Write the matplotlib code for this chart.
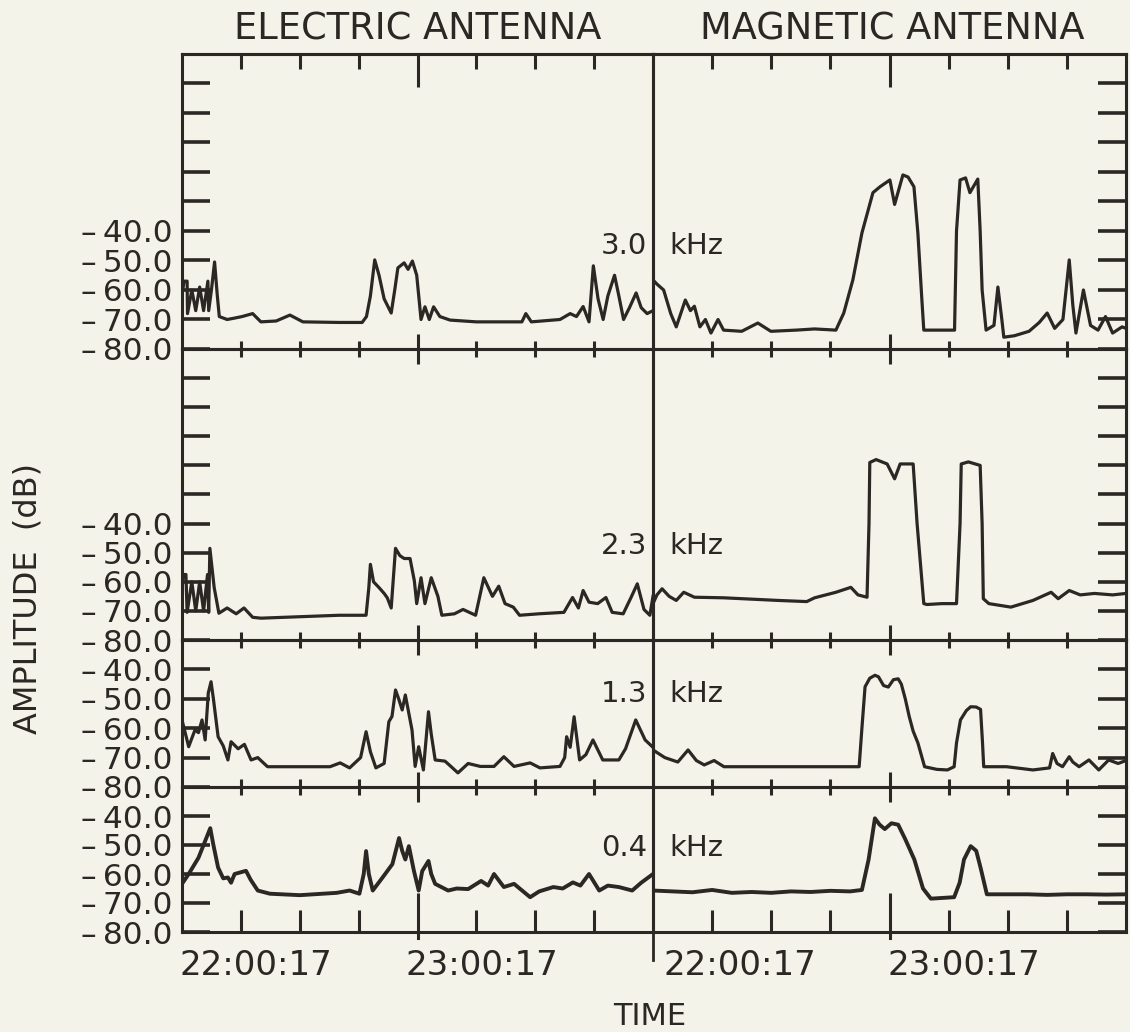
import numpy as np
import matplotlib.pyplot as plt
from matplotlib.ticker import FixedLocator, FixedFormatter, NullFormatter

# time axis: minutes after 22:00:17, amplitude in dB
e30 = np.array([
    (0, -62), (0.5, -57), (1.3, -57), (1.4, -68), (2.5, -60), (3.5, -67), (4.5, -59),
    (5.5, -67), (6.6, -57), (6.8, -67), (7.5, -60), (8.3, -50.5), (9, -62), (9.5, -69),
    (11.5, -70), (13.5, -69.5), (15.3, -69), (18, -68), (20.1, -70.8), (24, -70.5),
    (27.5, -68.5), (30.8, -70.8), (40, -71), (45.9, -71), (47, -69), (48, -62), (49.1, -49.8),
    (50.2, -55), (51.5, -63), (53.3, -67.8), (54.2, -60), (55, -52.5), (56.6, -50.8),
    (57.6, -53), (58.7, -50.2), (59.8, -55), (60.9, -70), (61.9, -65.7), (63, -70),
    (64.1, -65.7), (65.7, -69), (68.3, -70.2), (75, -70.8), (86.6, -70.8), (87.6, -68),
    (89, -70.8), (96.3, -70), (98.9, -68), (100.5, -69), (102.2, -65.6), (103.7, -70.8),
    (104.8, -51.8), (106, -63), (107.3, -70), (108.5, -62), (110.2, -55), (111.3, -62),
    (112.5, -70), (114, -66), (115.7, -61), (117, -66), (118.5, -68), (120, -67),
])
m30 = np.array([
    (0, -56.6), (1, -58), (2.7, -60), (4.5, -68), (5.9, -72.5), (8.2, -63.4), (9.5, -67),
    (10.5, -65.5), (11.9, -72.5), (13.3, -70), (14.7, -74.6), (16.5, -70), (17.9, -73.6),
    (22.5, -74), (26.6, -71.2), (29.9, -74), (36.3, -73.6), (41, -73.2), (46.4, -73.6),
    (48.4, -67.8), (50.7, -56.6), (53, -40.7), (55.8, -27), (57.6, -25), (60.1, -22.7),
    (61.3, -31), (63.4, -21), (64.7, -21.7), (66.2, -25), (67.2, -40.7), (68.2, -63),
    (68.7, -73.6), (72, -73.6), (76.5, -73.6), (77, -40), (77.9, -22.7), (79.3, -22),
    (80.4, -27), (82.4, -22.4), (83, -40), (83.5, -60), (84.5, -73.6), (86.5, -72),
    (87.5, -59), (88.5, -70), (89, -76), (91.7, -75.5), (95.4, -74), (98, -71), (100, -67.8),
    (101.9, -73), (104, -70), (105.6, -49.8), (106.5, -65), (107.3, -74.6), (109.2, -60),
    (111, -72), (112.9, -73.6), (114.8, -69), (116.6, -74.6), (119, -72.5), (120, -73),
])
e23 = np.array([
    (0, -62), (0.3, -57.5), (1, -57.5), (1.3, -70.5), (2.5, -60), (3.5, -70), (4.5, -60),
    (5.5, -70), (6.5, -57.5), (6.8, -70.5), (7.1, -48.5), (8.2, -62), (9.4, -70.8),
    (11.5, -69), (13.8, -71), (15.8, -69), (18, -72.2), (20.1, -72.5), (30, -72),
    (40, -71.5), (46.9, -71.5), (47.6, -62), (48, -54), (48.8, -60), (50.2, -62),
    (51.5, -64), (52.3, -65.5), (53.3, -69), (54.4, -48.5), (55.5, -51), (56.6, -52),
    (58.1, -52), (59.2, -59.7), (59.8, -67.5), (60.9, -58.6), (61.9, -67.5), (63.5, -58.6),
    (65.2, -65), (66.2, -71.5), (69.4, -71), (71.6, -69.5), (74.8, -71.5), (76.9, -58.6),
    (79.1, -65), (80.7, -61.5), (82.3, -67.5), (84.4, -68.7), (86, -71.5), (90.9, -71),
    (97.3, -70.5), (99.5, -65.4), (101, -69), (102.2, -63), (103.7, -67), (105.9, -67.5),
    (108, -65.4), (109.6, -70.5), (112.4, -71), (114.4, -65.4), (116, -60.7), (117.7, -69.5),
    (119.2, -71.5), (120, -65),
])
m23 = np.array([
    (0, -67.5), (1, -64.5), (2.3, -62.4), (4.1, -65), (5.9, -66.4), (7.8, -63.6),
    (10.5, -65.3), (17.9, -65.5), (31.7, -66.4), (39, -66.8), (41, -65.5), (46.4, -63.6),
    (50.2, -61.9), (52, -64.5), (54.3, -65.3), (54.8, -40), (55, -19), (56.6, -18),
    (59.4, -19.5), (61.3, -24.6), (62.7, -19.5), (66, -19.5), (67, -40), (68.7, -67.5),
    (69.5, -67.8), (73.3, -67.5), (77, -67.5), (77.9, -40), (78.2, -19.5), (80, -18.8),
    (83, -20), (83.5, -40), (83.8, -65.8), (85.2, -67.5), (90.8, -68.7), (96.4, -66.4),
    (101, -63.6), (102.8, -65.8), (105.6, -63), (108.4, -64.5), (112, -64), (116.6, -64.5),
    (120, -64),
])
e13 = np.array([
    (0, -57.2), (1.7, -66.3), (3.3, -60.6), (4.2, -61.5), (5.1, -57.2), (5.9, -64),
    (6.7, -48), (7.4, -44.2), (8, -50), (9.2, -62.9), (10.5, -66), (11.7, -70.8),
    (12.5, -64.6), (14.3, -67), (15.9, -65.5), (17.6, -70.8), (19.3, -70), (21.8, -73.1),
    (30, -73.1), (37.7, -73.1), (40.3, -71.8), (42.7, -73.5), (45.5, -70), (46.9, -61.2),
    (48, -68), (49.4, -73.5), (51.5, -72), (52.7, -57.8), (53.5, -56), (54.4, -47),
    (55.2, -50), (56.1, -53.8), (56.9, -48.7), (57.8, -55), (58.6, -60.6), (59.4, -73),
    (60.3, -66.3), (61.5, -74.2), (62.8, -54.4), (63.5, -62), (64.5, -70.8), (67, -71.2),
    (68.5, -73), (70.3, -75.2), (72.9, -72), (76, -73), (79.5, -73), (82, -69.7),
    (84.6, -73), (88.7, -71.8), (91.2, -73.5), (96.3, -73), (97.5, -70), (98, -62.9),
    (98.9, -66.5), (99.9, -56.1), (101.3, -70.8), (102.9, -69), (104.7, -64), (107.2, -70.8),
    (111.3, -70.8), (113, -67), (115.6, -57.2), (118, -64), (120, -66.5),
])
m13 = np.array([
    (0, -67.4), (3, -70), (6.3, -71.5), (8.9, -67.4), (11, -71), (13, -72.5), (15.5, -71),
    (18, -73.1), (30, -73.1), (45, -73.1), (52.3, -73.1), (53, -60), (53.8, -45.9),
    (55, -43), (56.3, -42), (57.2, -42.5), (58.5, -45.5), (59.7, -46), (61, -43.5),
    (62.2, -43.2), (63, -45), (64, -50), (65, -56), (66, -61), (67.2, -65), (68.9, -73.1),
    (72, -74), (74.7, -74.2), (76.4, -73.1), (77, -65), (78, -57.2), (79.5, -54),
    (80.6, -52.7), (82, -52.8), (83.1, -53.6), (83.6, -65), (83.9, -73.1), (89.7, -73.1),
    (96.4, -74.2), (100.6, -73.5), (101.4, -68.6), (102.5, -72), (103.9, -73.1),
    (105.6, -69.7), (106.5, -71.5), (108.1, -73.1), (110.6, -70.8), (113.1, -74.2),
    (115.6, -70.8), (118, -72), (120, -71),
])
e04 = np.array([
    (0, -63.4), (1.7, -60), (4.2, -54.4), (7.2, -44.2), (8, -50), (9.2, -57.8), (10.5, -61.5),
    (11.7, -61.2), (12.5, -63), (13.4, -60), (16.3, -58.9), (17.5, -62), (19.3, -65.7),
    (22.4, -66.8), (30, -67.3), (39.4, -66.5), (42.7, -65.7), (45.2, -66.8), (46.3, -60),
    (46.9, -52.1), (47.6, -60), (48.6, -65.7), (51.1, -61.2), (53.6, -56.6), (55.3, -47.6),
    (56.1, -52), (56.9, -55), (57.8, -50.4), (59.1, -59), (60.3, -65.7), (61.2, -59),
    (62.8, -55.5), (63.5, -60), (64.5, -63.4), (67.8, -65.7), (70, -65), (72.9, -65.2),
    (76.2, -62.4), (78, -64), (79.5, -60), (82, -64.5), (84.6, -63.4), (88.7, -68),
    (91, -66), (94.6, -64.5), (97, -65), (99.6, -62.9), (101.5, -64), (103.7, -60),
    (106.3, -65.7), (108.5, -64), (111.3, -64.5), (114.7, -65.7), (117, -63), (120, -60),
])
m04 = np.array([
    (0, -65.7), (5, -66), (10, -66.3), (15, -65.5), (20, -66.5), (25, -66.2), (30, -66.5),
    (35, -66), (40, -66.2), (45, -65.8), (50, -66), (53, -65.5), (54.7, -55), (56.3, -40.8),
    (57.5, -43), (58.8, -44.5), (60.5, -42.5), (62.2, -43), (64, -48), (66.3, -55),
    (68.5, -65), (70.5, -68.5), (76.4, -68), (77.8, -63), (78.9, -55), (80.6, -50.4),
    (82, -52), (83.1, -57.8), (84.7, -67), (89.7, -67), (95, -67), (100, -67.2), (105, -67),
    (110, -67), (115, -67.1), (120, -67),
])

freqs = ["3.0", "2.3", "1.3", "0.4"]
freq_y = [-47.8, -50.5, -51, -53.8]
panels = [(e30, m30), (e23, m23), (e13, m13), (e04, m04)]
ylims = [(-80, 20), (-80, 20), (-80, -30), (-80, -30)]
yticks_big = [-80, -70, -60, -50, -40, -30, -20, -10, 0, 10]
yticks_small = [-80, -70, -60, -50, -40]
ylabels = ["\u2013\u200980.0", "\u2013\u200970.0", "\u2013\u200960.0",
           "\u2013\u200950.0", "\u2013\u200940.0"]

BG = "#f4f3e9"
INK = "#2b2724"
W, H = 1130, 1032

plt.rcParams["font.family"] = ["DejaVu Sans"]
fig = plt.figure(figsize=(W / 100, H / 100), dpi=100, facecolor=BG)


def box(x0, x1, y0, y1):
    return [x0 / W, 1 - y1 / H, (x1 - x0) / W, (y1 - y0) / H]


cols = [(182, 653), (653, 1126)]
rows = [(54, 349), (349, 640), (640, 787), (787, 932)]

for r, (y0, y1) in enumerate(rows):
    for c, (x0, x1) in enumerate(cols):
        ax = fig.add_axes(box(x0, x1, y0, y1))
        ax.set_facecolor("none")
        d = panels[r][c]
        lw = 2.8 if r == 3 else 2.3
        ax.plot(d[:, 0], d[:, 1], color=INK, lw=lw, solid_joinstyle="round")
        ax.set_xlim(0, 120)
        ax.set_ylim(*ylims[r])
        for sp in ax.spines.values():
            sp.set_linewidth(2.2)
            sp.set_color(INK)

        # x ticks: long mark on the hour, short every 15 min
        ax.xaxis.set_major_locator(FixedLocator([60]))
        ax.xaxis.set_minor_locator(FixedLocator([15, 30, 45, 75, 90, 105]))
        ax.xaxis.set_major_formatter(NullFormatter())
        if r < 3:
            ax.tick_params(axis="x", which="major", direction="inout", length=21.6,
                           width=2.2, color=INK, top=False, bottom=True)
            ax.tick_params(axis="x", which="minor", direction="inout", length=12,
                           width=2.2, color=INK, top=False, bottom=True)
        else:
            ax.tick_params(axis="x", which="major", direction="in", length=28,
                           width=2.2, color=INK, top=False, bottom=True)
            ax.tick_params(axis="x", which="minor", direction="in", length=16,
                           width=2.2, color=INK, top=False, bottom=True)
            # long hour mark pokes a little below the frame
            ax.plot([60, 60], [-80, -82], color=INK, lw=2.2, clip_on=False)
        if r == 0:
            sec = ax.secondary_xaxis("top")
            sec.xaxis.set_major_locator(FixedLocator([60]))
            sec.xaxis.set_minor_locator(FixedLocator([15, 30, 45, 75, 90, 105]))
            sec.xaxis.set_major_formatter(NullFormatter())
            sec.tick_params(axis="x", which="major", direction="in", length=24,
                            width=2.2, color=INK)
            sec.tick_params(axis="x", which="minor", direction="in", length=11,
                            width=2.2, color=INK)
            sec.spines["top"].set_linewidth(2.2)
            sec.spines["top"].set_color(INK)

        # y ticks
        ticks = yticks_big if r < 2 else yticks_small
        ax.yaxis.set_major_locator(FixedLocator(ticks))
        ax.yaxis.set_minor_locator(FixedLocator([]))
        if c == 0:
            ax.yaxis.set_major_formatter(
                FixedFormatter(ylabels + [""] * (len(ticks) - len(ylabels))))
            ax.tick_params(axis="y", direction="in", length=20, width=2.6, color=INK,
                           left=True, right=False, labelleft=True, labelsize=22.5,
                           labelcolor=INK, pad=6.8)
        else:
            ax.yaxis.set_major_formatter(NullFormatter())
            ax.tick_params(axis="y", direction="in", length=20, width=2.6, color=INK,
                           left=False, right=True, labelleft=False)

        # frequency label split across the divider
        if c == 0:
            ax.annotate(freqs[r], xy=(1 - 6 / 471, freq_y[r]),
                        xycoords=("axes fraction", "data"), ha="right", va="baseline",
                        fontsize=21, color=INK)
        else:
            ax.annotate("kHz", xy=(16 / 473, freq_y[r]),
                        xycoords=("axes fraction", "data"), ha="left", va="baseline",
                        fontsize=21, color=INK)

        if r == 3 and c == 1:
            # divider runs down past the bottom frame
            ax.plot([0, 0], [-80, -80 - 28 / 2.94], color=INK, lw=2.0, clip_on=False)

# column titles
fig.text(418 / W, 1 - 40 / H, "ELECTRIC ANTENNA", ha="center", va="baseline",
         fontsize=26.5, color=INK)
fig.text(892 / W, 1 - 40 / H, "MAGNETIC ANTENNA", ha="center", va="baseline",
         fontsize=26.5, color=INK)

# time labels under each panel
for x in [179, 405, 664, 888]:
    lab = "22:00:17" if x in (179, 664) else "23:00:17"
    fig.text(x / W, 1 - 975 / H, lab, ha="left", va="baseline", fontsize=24.5, color=INK)

fig.text(650 / W, 1 - 1025 / H, "TIME", ha="center", va="baseline", fontsize=22,
         color=INK)
fig.text(28 / W, 1 - 598 / H, "AMPLITUDE  (dB)", rotation=90, ha="center", va="center",
         fontsize=23, color=INK)

fig.savefig("out.png", dpi=100, facecolor=BG)
